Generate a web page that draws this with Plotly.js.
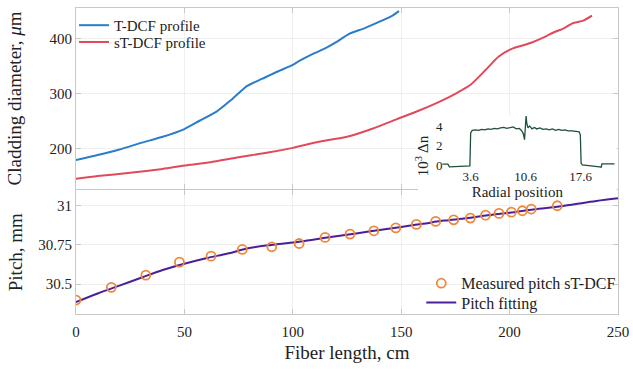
<!DOCTYPE html>
<html><head><meta charset="utf-8">
<script src="https://cdn.plot.ly/plotly-3.0.1.min.js"></script>
<style>html,body{margin:0;padding:0;background:#fff}#chart{width:633px;height:369px}</style>
</head><body><div id="chart"></div>
<script>
// ---- data ----
const tdcfLength   = [0, 10, 20, 30, 40, 50, 57, 65, 72, 79, 86, 93, 100, 103, 110, 116, 120, 126, 133, 140, 146, 149];
const tdcfDiameter = [180, 189, 199, 211, 222, 236, 251, 268, 290, 314, 327, 340, 352, 359, 373, 384, 393, 408, 418, 430, 441, 449];

const stdcfLength   = [0, 10, 25, 40, 50, 62, 75, 88, 100, 112, 125, 137, 148, 158, 168, 176, 182, 189, 195, 201, 206, 210, 216, 220, 225, 229, 234, 238];
const stdcfDiameter = [146, 151, 157, 164, 170, 176, 185, 193, 202, 213, 222, 237, 254, 269, 286, 302, 316, 343, 367, 381, 387, 392, 402, 410, 418, 427, 432, 441];

const pitchLength   = [0, 16.3, 32.2, 47.7, 62.3, 76.7, 90.3, 102.9, 114.9, 126.4, 137.4, 147.5, 157, 165.9, 174.2, 181.9, 188.9, 195.1, 200.8, 205.9, 210, 222];
const pitchMeasured = [30.398, 30.479, 30.557, 30.64, 30.678, 30.721, 30.738, 30.759, 30.798, 30.819, 30.84, 30.859, 30.881, 30.9, 30.91, 30.921, 30.94, 30.951, 30.959, 30.968, 30.979, 31.0];

const fitLength = [0, 10, 20, 30, 40, 50, 60, 70, 80, 90, 100, 110, 120, 130, 140, 150, 160, 170, 180, 190, 200, 210, 220, 230, 240, 250];
const fitPitch  = [30.385, 30.44, 30.49, 30.54, 30.59, 30.63, 30.665, 30.695, 30.73, 30.75, 30.765, 30.785, 30.805, 30.825, 30.845, 30.865, 30.885, 30.905, 30.92, 30.94, 30.955, 30.975, 30.99, 31.01, 31.03, 31.047];

const radialPos = [0, 0.7, 0.9, 2.0, 3.0, 3.5, 3.6, 3.65, 3.8, 4.2, 4.6, 5.0, 5.4, 5.8, 6.2, 6.6, 7.0, 7.4, 7.8, 8.2, 8.6, 9.0, 9.4, 9.8, 10.1, 10.3, 10.45, 10.55, 10.65, 10.75, 10.9, 11.1, 11.4, 11.7, 12.0, 12.4, 12.8, 13.2, 13.6, 14.0, 14.4, 14.8, 15.2, 15.6, 16.0, 16.5, 17.0, 17.4, 17.55, 17.65, 17.8, 18.5, 19.3, 20.0, 20.2, 20.3, 21.0, 21.9];
const deltaN    = [0.12, 0.12, -0.15, -0.1, -0.05, -0.05, 3.3, 3.4, 3.55, 3.6, 3.55, 3.65, 3.6, 3.7, 3.65, 3.75, 3.7, 3.8, 3.85, 3.75, 3.8, 3.9, 3.7, 3.75, 3.5, 3.2, 2.6, 4.4, 5.0, 4.2, 3.8, 4.0, 3.7, 3.85, 3.7, 3.8, 3.65, 3.7, 3.6, 3.7, 3.55, 3.65, 3.55, 3.6, 3.5, 3.5, 3.45, 3.4, 3.1, 0.2, 0.05, 0.0, -0.05, -0.15, -0.2, 0.15, 0.15, 0.15];

const lengthTicks    = [0, 50, 100, 150, 200, 250];
const diameterTicks  = [200, 300, 400];
const pitchTicks     = [30.5, 30.75, 31];
const pitchTickText  = ['30.5', '30.75', '31'];
const radialTicks    = [3.6, 10.6, 17.6];
const radialTickText = ['3.6', '10.6', '17.6'];
const deltaTicks     = [0, 2, 4];

// ---- styling ----
const SERIF = 'Liberation Serif';
const axLine = {
  showline: true, linecolor: '#c8c8c8', linewidth: 1, mirror: 'ticks',
  ticks: 'inside', ticklen: 5, tickcolor: '#c8c8c8',
  showgrid: true, gridcolor: '#efefef', zeroline: false,
  tickfont: { family: SERIF, size: 15, color: '#222' }
};
const legendBase = { xanchor: 'left', yanchor: 'middle', bgcolor: 'rgba(0,0,0,0)', borderwidth: 0 };

const traces = [
  { x: tdcfLength, y: tdcfDiameter, xaxis: 'x', yaxis: 'y', mode: 'lines', name: 'T-DCF profile',
    line: { color: '#2b7cc9', width: 2, shape: 'spline', smoothing: 0.6 }, legend: 'legend' },
  { x: stdcfLength, y: stdcfDiameter, xaxis: 'x', yaxis: 'y', mode: 'lines', name: 'sT-DCF profile',
    line: { color: '#e2495a', width: 2, shape: 'spline', smoothing: 0.6 }, legend: 'legend2' },
  { x: fitLength, y: fitPitch, xaxis: 'x2', yaxis: 'y2', mode: 'lines', name: 'Pitch fitting',
    line: { color: '#4a1f9a', width: 2, shape: 'spline' }, legend: 'legend4' },
  { x: pitchLength, y: pitchMeasured, xaxis: 'x2', yaxis: 'y2', mode: 'markers', name: 'Measured pitch sT-DCF',
    marker: { symbol: 'circle-open', size: 9, color: '#f0883a', line: { width: 1.8, color: '#f0883a' } },
    legend: 'legend3' },
  { x: radialPos, y: deltaN, xaxis: 'x3', yaxis: 'y3', mode: 'lines', showlegend: false,
    line: { color: '#1f5038', width: 1.3 } }
];

const layout = {
  width: 633, height: 369,
  paper_bgcolor: 'white', plot_bgcolor: '#ffffff',
  margin: { l: 76, r: 15, t: 8, b: 55 },
  font: { family: SERIF, size: 15, color: '#222' },
  xaxis: Object.assign({}, axLine, { domain: [0, 1], range: [0, 250], tickvals: lengthTicks, showticklabels: false, anchor: 'y' }),
  yaxis: Object.assign({}, axLine, { domain: [0.4085, 1], range: [127.7, 454.7], tickvals: diameterTicks, anchor: 'x',
    title: { text: 'Cladding diameter, <i>μ</i>m', font: { family: SERIF, size: 19 }, standoff: 22 } }),
  xaxis2: Object.assign({}, axLine, { domain: [0, 1], range: [0, 250], tickvals: lengthTicks, anchor: 'y2', ticklabelstandoff: 4,
    title: { text: 'Fiber length, cm', font: { family: SERIF, size: 19 }, standoff: 6 } }),
  yaxis2: Object.assign({}, axLine, { domain: [0, 0.404], range: [30.309, 31.098], tickvals: pitchTicks, ticktext: pitchTickText, anchor: 'x2',
    title: { text: 'Pitch, mm', font: { family: SERIF, size: 19 }, standoff: 10 } }),
  // inset: its (white) subplot area covers the region behind it; axes are placed freely inside
  xaxis3: { domain: [0.631, 0.9975], range: [-3.10, 22.17], anchor: 'free', position: 0.480, tickvals: radialTicks, ticktext: radialTickText,
    showline: false, ticks: '', showgrid: false, zeroline: false, tickfont: { family: SERIF, size: 13, color: '#222' },
    title: { text: 'Radial position', font: { family: SERIF, size: 15 }, standoff: 0 } },
  yaxis3: { domain: [0.3856, 0.6471], range: [-3.123, 5.015], anchor: 'free', position: 0.676, tickvals: deltaTicks,
    showline: false, ticks: '', showgrid: false, zeroline: false, tickfont: { family: SERIF, size: 13, color: '#222' },
    title: { text: '10<sup>3</sup> Δn', font: { family: SERIF, size: 15 }, standoff: 2 } },
  showlegend: true,
  legend:  Object.assign({}, legendBase, { x: -0.0037, y: 0.943, font: { family: SERIF, size: 15, color: '#222' } }),
  legend2: Object.assign({}, legendBase, { x: -0.0037, y: 0.888, font: { family: SERIF, size: 15, color: '#222' } }),
  legend3: Object.assign({}, legendBase, { x: 0.637, y: 0.1003, font: { family: SERIF, size: 16, color: '#222' } }),
  legend4: Object.assign({}, legendBase, { x: 0.637, y: 0.0369, font: { family: SERIF, size: 16, color: '#222' } })
};

Plotly.newPlot('chart', traces, layout, { displayModeBar: false, staticPlot: true });
</script>
</body></html>
